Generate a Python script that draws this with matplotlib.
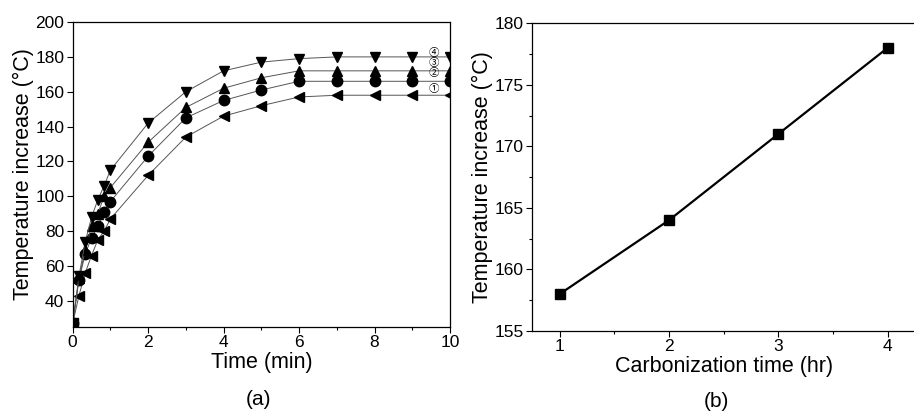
import matplotlib
matplotlib.use("Agg")
from matplotlib import pyplot as plt
from matplotlib.ticker import MultipleLocator

plt.rcParams['font.family'] = ['Liberation Sans', 'DejaVu Sans']

# (a) temperature increase vs time, four carbonization times
t_min = [0, 0.167, 0.333, 0.5, 0.667, 0.833, 1, 2, 3, 4, 5, 6, 7, 8, 9, 10]
temp_1 = [27, 43, 56, 66, 75, 80, 87, 112, 134, 146, 152, 157, 158, 158, 158, 158]
temp_2 = [27, 52, 67, 76, 83, 91, 97, 123, 145, 155, 161, 166, 166, 166, 166, 166]
temp_3 = [27, 53, 69, 83, 90, 100, 105, 131, 151, 162, 168, 172, 172, 172, 172, 172]
temp_4 = [27, 54, 74, 88, 98, 106, 115, 142, 160, 172, 177, 179, 180, 180, 180, 180]
curve_tags = ["\u2460", "\u2461", "\u2462", "\u2463"]
tag_y = [161.5, 170.7, 176.4, 182.4]

# (b) max temperature increase vs carbonization time
carb_hr = [1, 2, 3, 4]
temp_max = [158, 164, 171, 178]

fig = plt.figure(figsize=(9.14, 4.16), dpi=100)
ax1 = fig.add_axes([0.0795, 0.214, 0.4128, 0.733])
ax2 = fig.add_axes([0.5824, 0.2043, 0.4187, 0.740])

series = [(temp_1, "<"), (temp_2, "o"), (temp_3, "^"), (temp_4, "v")]
for vals, mk in series:
    ax1.plot(t_min, vals, color="#555555", lw=0.7, marker=mk, ms=7.5,
             mfc="black", mec="black")
for tag, ty in zip(curve_tags, tag_y):
    ax1.text(9.56, ty, tag, ha="center", va="center", fontsize=7.5,
             family=['Noto Sans CJK SC', 'DejaVu Sans'])

ax1.set_xlim(0, 10)
ax1.set_ylim(25, 200)
ax1.xaxis.set_major_locator(MultipleLocator(2))
ax1.xaxis.set_minor_locator(MultipleLocator(1))
ax1.set_yticks(range(40, 201, 20))
ax1.set_xlabel("Time (min)", fontsize=15.5, labelpad=1)
ax1.set_ylabel("Temperature increase (\u00b0C)", fontsize=15.5, labelpad=1)

ax2.plot(carb_hr, temp_max, color="black", lw=1.6, marker="s", ms=7)
ax2.set_xlim(0.75, 4.25)
ax2.set_ylim(155, 180)
ax2.xaxis.set_major_locator(MultipleLocator(1))
ax2.xaxis.set_minor_locator(MultipleLocator(0.5))
ax2.yaxis.set_major_locator(MultipleLocator(5))
ax2.yaxis.set_minor_locator(MultipleLocator(2.5))
ax2.set_xlabel("Carbonization time (hr)", fontsize=15.5, labelpad=1)
ax2.set_ylabel("Temperature increase (\u00b0C)", fontsize=15.5, labelpad=1)

for ax in (ax1, ax2):
    ax.tick_params(which="major", direction="out", length=4, width=0.8,
                   labelsize=12.5, pad=2)
    ax.tick_params(which="minor", direction="out", length=2.5, width=0.8)
    for sp in ax.spines.values():
        sp.set_linewidth(0.9)

fig.text(0.283, 0.04, "(a)", ha="center", va="center", fontsize=15)
fig.text(0.784, 0.035, "(b)", ha="center", va="center", fontsize=15)

fig.savefig("out.png", dpi=100)
